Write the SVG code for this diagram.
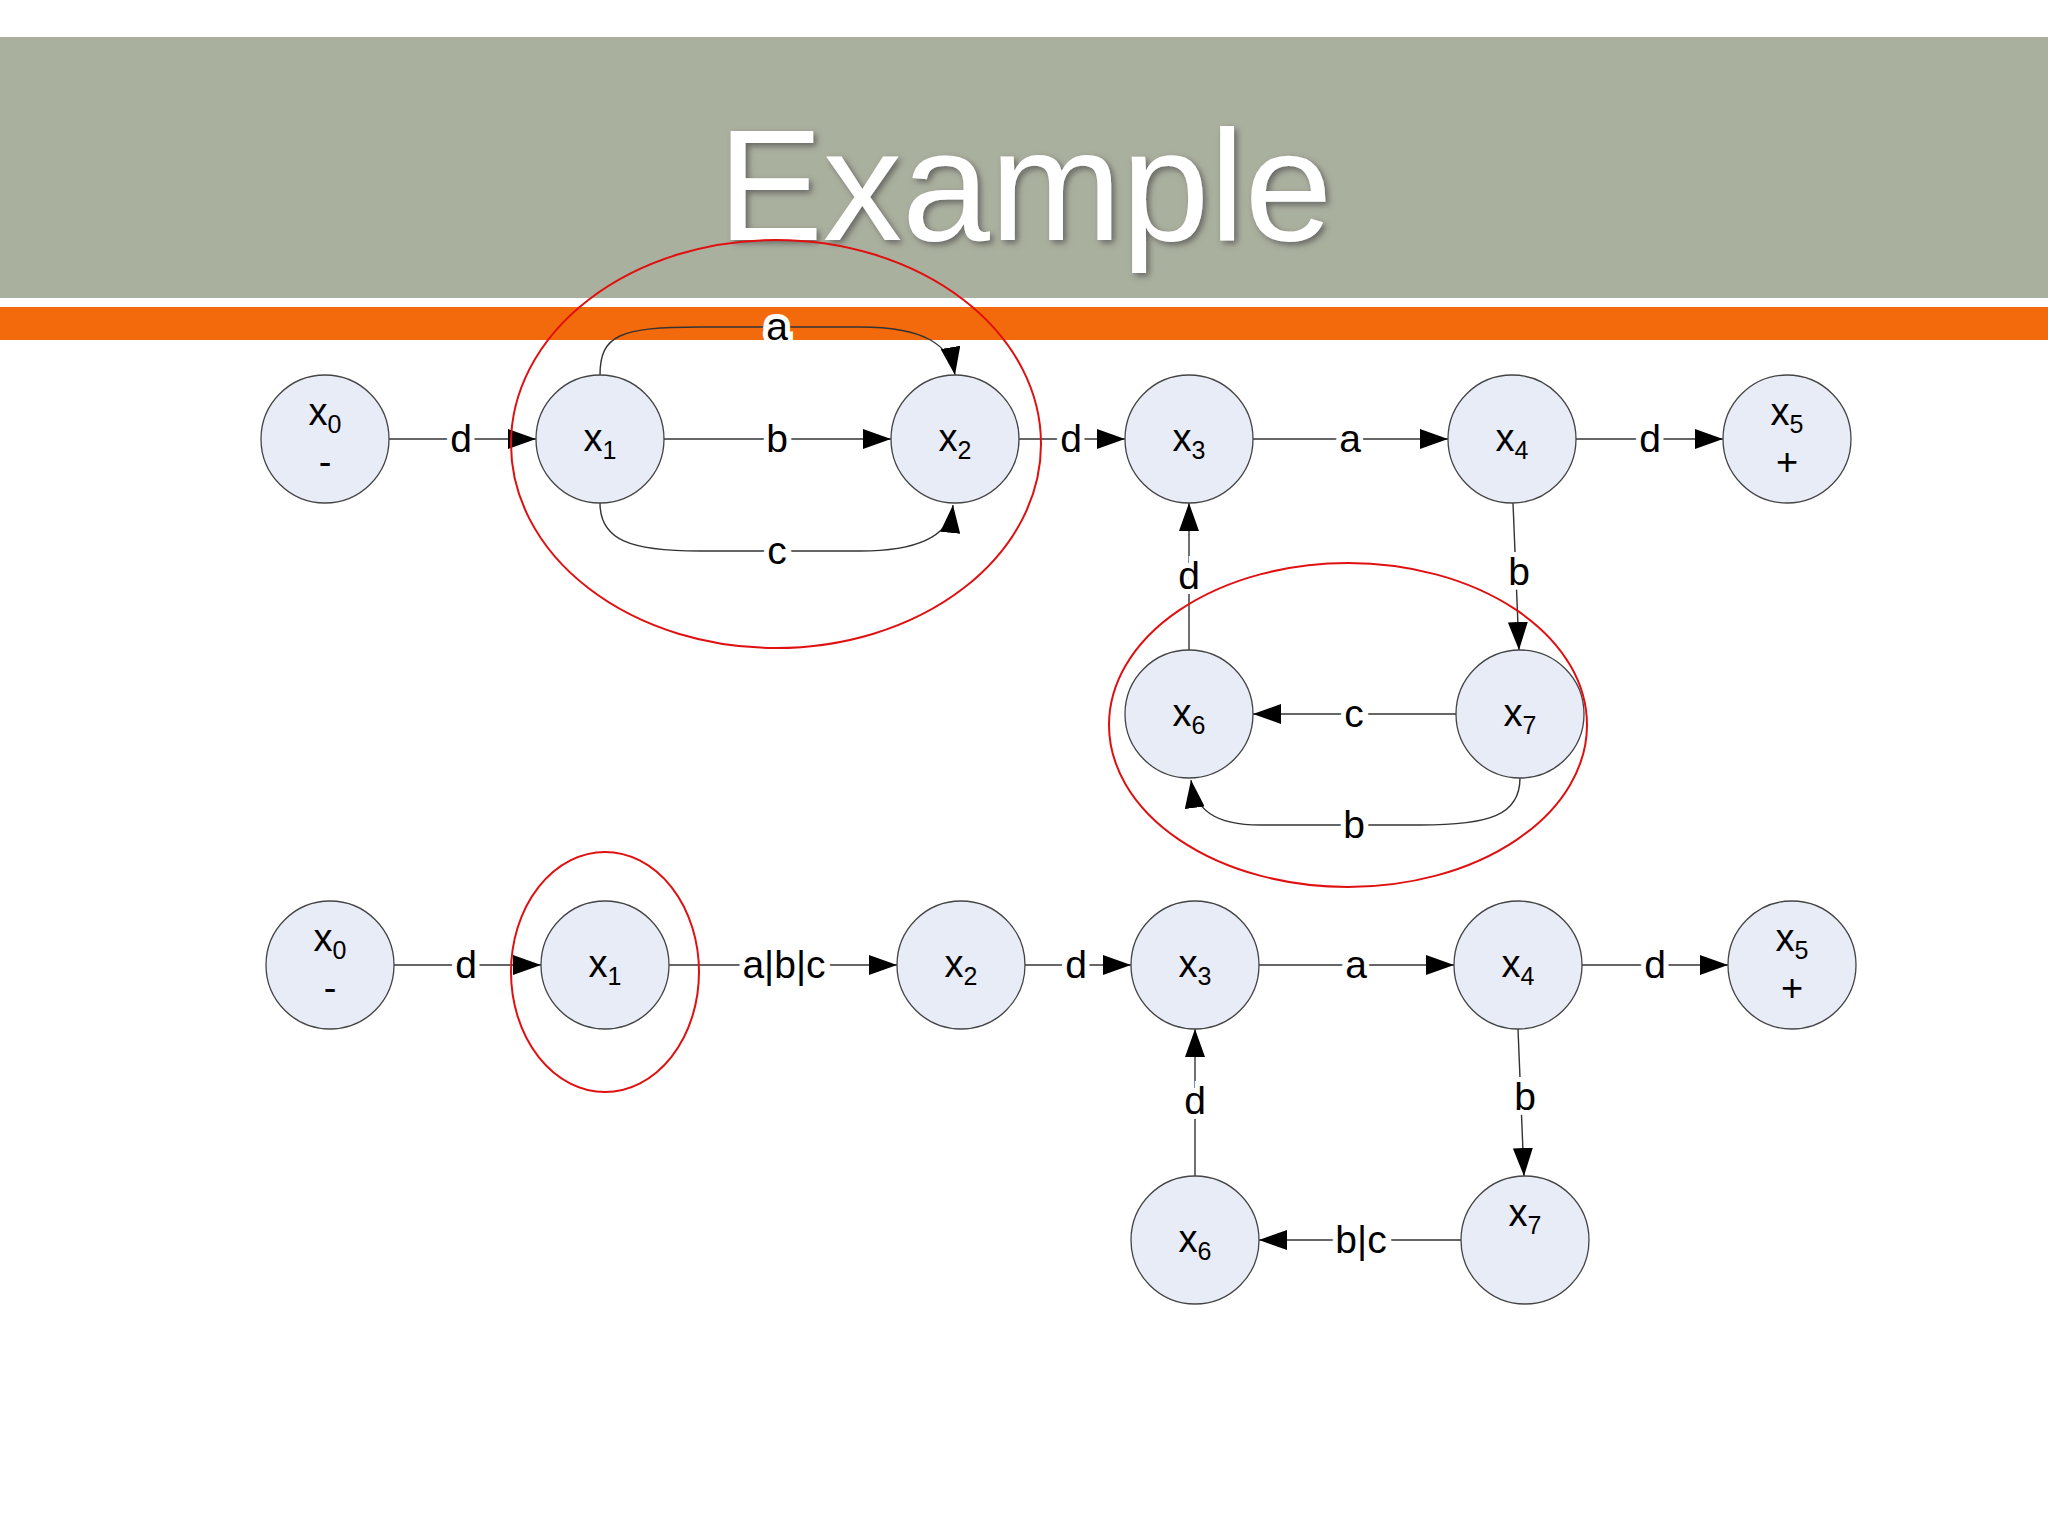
<svg xmlns="http://www.w3.org/2000/svg" width="2048" height="1536" viewBox="0 0 2048 1536">
<style>
.n{fill:#e8ecf6;stroke:#444;stroke-width:1.3}
.t{font-family:"Liberation Sans",Arial,sans-serif;font-size:38px;fill:#000;text-anchor:middle}
.s{font-size:25px}
.l{font-family:"Liberation Sans",Arial,sans-serif;font-size:39px;fill:#000;text-anchor:middle;paint-order:stroke;stroke:#fff;stroke-width:10}
.e{fill:none;stroke:#333;stroke-width:1.4}
.r{fill:none;stroke:#e01010;stroke-width:2}
</style>
<defs>
<marker id="a" markerUnits="userSpaceOnUse" markerWidth="30" markerHeight="20" refX="28" refY="10" orient="auto"><path d="M0,0 L28,10 L0,20 Z" fill="#000"/></marker>
<filter id="sh"><feDropShadow dx="3" dy="3" stdDeviation="3" flood-color="#555" flood-opacity="0.8"/></filter>
</defs>
<rect width="2048" height="1536" fill="#fff"/>
<rect x="0" y="37" width="2048" height="261" fill="#aab09e"/>
<rect x="0" y="307" width="2048" height="33" fill="#f26a0c"/>
<text x="1025" y="240" font-family="'Liberation Sans',Arial,sans-serif" font-size="158" fill="#fff" text-anchor="middle" filter="url(#sh)">Example</text>
<g id="connectors">
<line class="e" x1="389" y1="439" x2="536" y2="439" marker-end="url(#a)"/><text class="l" x="461" y="452">d</text>
<line class="e" x1="664" y1="439" x2="891" y2="439" marker-end="url(#a)"/><text class="l" x="777" y="452">b</text>
<path class="e" d="M600,375 C600,335 620,327 700,327 L860,327 C925,327 950,345 955,375" marker-end="url(#a)"/><text class="l" x="777" y="340">a</text>
<path class="e" d="M600,503 C600,540 630,551 700,551 L860,551 C920,551 950,535 953,505" marker-end="url(#a)"/><text class="l" x="777" y="564">c</text>
<line class="e" x1="1019" y1="439" x2="1125" y2="439" marker-end="url(#a)"/><text class="l" x="1071" y="452">d</text>
<line class="e" x1="1253" y1="439" x2="1448" y2="439" marker-end="url(#a)"/><text class="l" x="1350" y="452">a</text>
<line class="e" x1="1576" y1="439" x2="1723" y2="439" marker-end="url(#a)"/><text class="l" x="1650" y="452">d</text>
<line class="e" x1="1513" y1="503" x2="1519" y2="650" marker-end="url(#a)"/><text class="l" x="1519" y="585">b</text>
<line class="e" x1="1189" y1="650" x2="1189" y2="503" marker-end="url(#a)"/><text class="l" x="1189" y="589">d</text>
<line class="e" x1="1456" y1="714" x2="1253" y2="714" marker-end="url(#a)"/><text class="l" x="1354" y="727">c</text>
<path class="e" d="M1520,778 C1520,815 1490,825 1420,825 L1260,825 C1215,825 1195,810 1191,780" marker-end="url(#a)"/><text class="l" x="1354" y="838">b</text>
<line class="e" x1="394" y1="965" x2="541" y2="965" marker-end="url(#a)"/><text class="l" x="466" y="978">d</text>
<line class="e" x1="669" y1="965" x2="897" y2="965" marker-end="url(#a)"/><text class="l" x="784" y="978">a|b|c</text>
<line class="e" x1="1025" y1="965" x2="1131" y2="965" marker-end="url(#a)"/><text class="l" x="1076" y="978">d</text>
<line class="e" x1="1259" y1="965" x2="1454" y2="965" marker-end="url(#a)"/><text class="l" x="1356" y="978">a</text>
<line class="e" x1="1582" y1="965" x2="1728" y2="965" marker-end="url(#a)"/><text class="l" x="1655" y="978">d</text>
<line class="e" x1="1518" y1="1029" x2="1524" y2="1176" marker-end="url(#a)"/><text class="l" x="1525" y="1110">b</text>
<line class="e" x1="1195" y1="1176" x2="1195" y2="1029" marker-end="url(#a)"/><text class="l" x="1195" y="1114">d</text>
<line class="e" x1="1461" y1="1240" x2="1259" y2="1240" marker-end="url(#a)"/><text class="l" x="1361" y="1253">b|c</text>
</g>
<g id="n_t0"><circle class="n" cx="325" cy="439" r="64"/><text class="t" x="325" y="425">x<tspan class="s" dy="8">0</tspan></text><text class="t" x="325" y="475">-</text></g>
<g id="n_t1"><circle class="n" cx="600" cy="439" r="64"/><text class="t" x="600" y="451">x<tspan class="s" dy="8">1</tspan></text></g>
<g id="n_t2"><circle class="n" cx="955" cy="439" r="64"/><text class="t" x="955" y="451">x<tspan class="s" dy="8">2</tspan></text></g>
<g id="n_t3"><circle class="n" cx="1189" cy="439" r="64"/><text class="t" x="1189" y="451">x<tspan class="s" dy="8">3</tspan></text></g>
<g id="n_t4"><circle class="n" cx="1512" cy="439" r="64"/><text class="t" x="1512" y="451">x<tspan class="s" dy="8">4</tspan></text></g>
<g id="n_t5"><circle class="n" cx="1787" cy="439" r="64"/><text class="t" x="1787" y="425">x<tspan class="s" dy="8">5</tspan></text><text class="t" x="1787" y="475">+</text></g>
<g id="n_t6"><circle class="n" cx="1189" cy="714" r="64"/><text class="t" x="1189" y="726">x<tspan class="s" dy="8">6</tspan></text></g>
<g id="n_t7"><circle class="n" cx="1520" cy="714" r="64"/><text class="t" x="1520" y="726">x<tspan class="s" dy="8">7</tspan></text></g>
<g id="n_b0"><circle class="n" cx="330" cy="965" r="64"/><text class="t" x="330" y="951">x<tspan class="s" dy="8">0</tspan></text><text class="t" x="330" y="1001">-</text></g>
<g id="n_b1"><circle class="n" cx="605" cy="965" r="64"/><text class="t" x="605" y="977">x<tspan class="s" dy="8">1</tspan></text></g>
<g id="n_b2"><circle class="n" cx="961" cy="965" r="64"/><text class="t" x="961" y="977">x<tspan class="s" dy="8">2</tspan></text></g>
<g id="n_b3"><circle class="n" cx="1195" cy="965" r="64"/><text class="t" x="1195" y="977">x<tspan class="s" dy="8">3</tspan></text></g>
<g id="n_b4"><circle class="n" cx="1518" cy="965" r="64"/><text class="t" x="1518" y="977">x<tspan class="s" dy="8">4</tspan></text></g>
<g id="n_b5"><circle class="n" cx="1792" cy="965" r="64"/><text class="t" x="1792" y="951">x<tspan class="s" dy="8">5</tspan></text><text class="t" x="1792" y="1001">+</text></g>
<g id="n_b6"><circle class="n" cx="1195" cy="1240" r="64"/><text class="t" x="1195" y="1252">x<tspan class="s" dy="8">6</tspan></text></g>
<g id="n_b7"><circle class="n" cx="1525" cy="1240" r="64"/><text class="t" x="1525" y="1226">x<tspan class="s" dy="8">7</tspan></text></g>
<g id="highlights">
<ellipse class="r" cx="776" cy="444" rx="265" ry="204"/>
<ellipse class="r" cx="1348" cy="725" rx="239" ry="162"/>
<ellipse class="r" cx="605" cy="972" rx="94" ry="120"/>
</g>
</svg>
